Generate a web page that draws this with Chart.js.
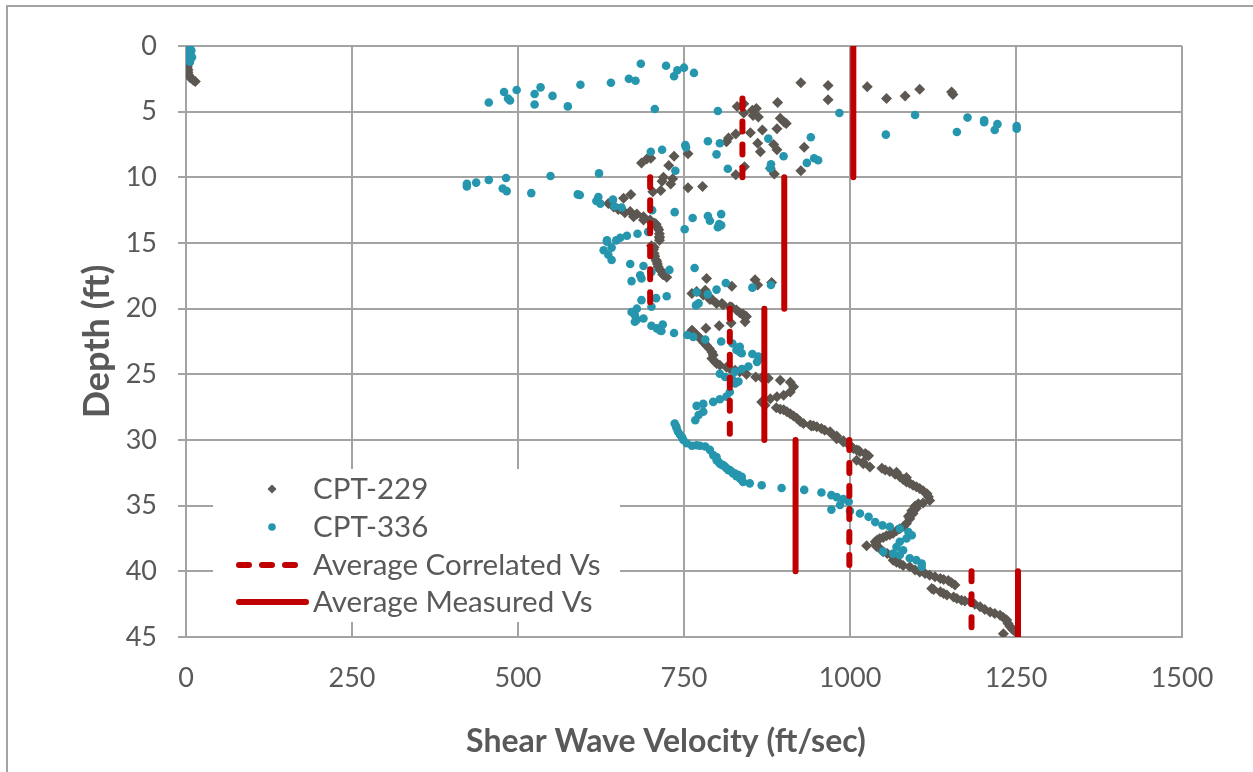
<!DOCTYPE html>
<html>
<head>
<meta charset="utf-8">
<script src="https://cdn.jsdelivr.net/npm/chart.js@4.4.1/dist/chart.umd.min.js"></script>
<style>
  html, body { margin: 0; padding: 0; background: #fff; overflow: hidden; }
  #wrap { position: relative; width: 1253px; height: 772px; }
  #frame { position: absolute; left: 6px; top: 5px; width: 1300px; height: 820px; border: 2px solid #a3a3a3; box-sizing: border-box; }
  canvas { position: absolute; left: 0; top: 0; }
</style>
</head>
<body>
<div id="wrap"><div id="frame"></div><canvas id="c" width="1253" height="772"></canvas></div>
<script>
// [velocity ft/s, depth ft]
const cpt229 = [
  [2,0.2],[3,0.4],[2,0.6],[3,0.8],[2,1.0],[2,1.2],[3,1.4],[2,1.6],[3,1.8],[3,2.0],[4,2.2],[6,2.4],[11,2.6],[14,2.7],
  [926,2.8],[967,3.0],[967,4.1],[1026,3.1],[1055,4.0],[1083,3.8],[1105,3.3],[1153,3.5],[1155,3.7],
  [891,4.3],[830,4.6],[840,4.4],[840,5.1],[853,4.9],[859,4.75],[862,5.4],[854,5.3],[895,5.5],[901,5.8],[904,5.9],
  [890,6.3],[868,6.4],[850,6.6],[828,6.7],[817,7.0],[814,7.3],[861,7.4],[865,8.05],[885,7.5],[890,7.9],[931,7.7],
  [756,8.2],[735,8.4],[700,8.55],[694,8.6],[686,8.9],[727,9.1],[841,9.2],[828,9.8],[880,9.3],[886,9.75],[926,9.5],
  [719,10.0],[717,10.3],[733,10.1],[730,10.5],[756,10.8],[778,10.7],[703,11.1],[715,11.0],[659,11.6],[670,11.3],[636,12.0],
  [644,12.25],[651,12.44],[656,12.45],[661,12.69],[669,12.6],[674,13.0],[679,12.8],[689,13.0],[689,13.25],[699,13.25],
  [699,13.3],[706,13.5],[708,13.58],[710,13.8],[712,14.0],[713,14.3],[713,14.52],[713,14.6],[713,14.8],[701,15.2],
  [705,15.33],[704,15.5],[705,15.79],[706,16.0],[708,16.3],[709,16.4],[710,16.6],[711,16.8],[714,17.06],[715,17.1],
  [718,17.4],[720,17.44],[724,17.6],
  [784,17.7],[822,18.3],[857,17.8],[861,18.2],[882,18.0],
  [762,18.85],[769,18.7],[779,18.95],[782,18.6],[789,19.3],[792,19.29],[799,19.6],[807,19.6],[809,19.7],[819,19.85],
  [822,19.9],[829,20.1],[834,20.31],[839,20.4],[842,20.66],[844,20.6],[842,21.0],[783,21.5],[803,21.3],[821,21.1],
  [762,21.65],[764,21.76],[769,22.0],[773,22.19],[777,22.4],[780,22.6],[784,22.8],[788,23.03],[792,23.3],[794,23.53],
  [792,23.8],[797,24.05],[799,24.17],[804,24.3],[814,24.47],[819,24.55],[827,24.68],[834,24.8],[844,25.0],[858,25.2],
  [867,25.26],[877,25.3],[895,25.45],[910,25.6],[915,25.95],[910,26.35],[900,26.6],[890,26.7],[880,26.85],[867,27.1],
  [872,27.35],[889,27.55],[895,27.65],[900,27.7],[905,27.85],[910,28.0],[915,28.18],[920,28.35],[925,28.6],[930,28.75],
  [940,28.85],[945,28.91],[942,28.94],[950,29.0],[957,29.12],[962,29.25],[970,29.37],[972,29.5],[980,29.7],[980,29.9],
  [990,30.06],[990,30.15],[1000,30.4],[1000,30.46],[1005,30.65],[1010,30.77],[1013,30.8],[1015,30.9],[1023,31.02],
  [1025,31.15],[1028,31.2],[1020,31.7],[1010,31.55],[1020,31.8],[1030,32.05],
  [1048,32.15],[1053,32.29],[1060,32.4],[1068,32.6],[1070,32.45],[1075,32.8],[1080,33.0],[1085,32.85],[1085,33.2],
  [1090,33.3],[1095,33.45],[1100,33.56],[1105,33.7],[1110,33.87],[1116,34.1],[1118,34.33],[1120,34.6],[1110,34.8],
  [1103,34.85],[1098,35.03],[1100,35.2],[1093,35.39],[1095,35.6],[1088,35.8],[1090,36.0],[1085,36.35],[1081,36.56],
  [1075,36.75],[1070,36.91],[1065,37.1],[1060,37.22],[1055,37.3],[1050,37.42],[1045,37.5],[1041,37.62],[1038,37.75],
  [1039,37.93],[1040,38.1],[1045,38.26],[1025,38.05],[1050,38.5],[1056,38.64],[1063,38.8],[1065,39.15],[1070,39.3],
  [1075,39.4],[1080,39.55],[1090,39.65],[1098,39.9],[1105,40.05],[1113,40.16],[1120,40.3],[1128,40.42],[1136,40.55],
  [1141,40.62],[1148,40.7],[1153,40.87],[1158,41.05],
  [1123,41.3],[1126,41.38],[1136,41.55],[1141,41.68],[1146,41.8],[1156,41.95],[1161,42.06],[1168,42.2],[1173,42.25],
  [1181,42.3],[1188,42.5],[1196,42.7],[1203,42.9],[1211,43.1],[1218,43.21],[1226,43.35],[1231,43.51],[1236,43.7],
  [1238,43.97],[1241,44.2],[1245,44.43],[1249,44.6],[1231,44.75]
];

const cpt336 = [
  [3,0.1],[6,0.2],[8,0.35],[5,0.5],[7,0.7],[9,0.85],[4,1.0],[6,1.2],
  [685,1.35],[723,1.5],[740,1.85],[750,1.65],[735,2.3],[765,2.05],[667,2.5],[677,2.65],[640,2.8],[594,2.95],
  [552,3.8],[534,3.15],[525,3.65],[525,4.45],[498,3.35],[479,3.5],[485,4.0],[488,4.15],[456,4.3],[575,4.6],[706,4.8],
  [801,4.95],[984,5.1],[1098,5.25],[1054,6.75],[1161,6.55],[1177,5.45],[1202,5.65],[1202,5.8],[1222,5.95],
  [1218,6.4],[1251,6.1],[1251,6.3],
  [700,8.05],[717,7.9],[752,7.55],[753,7.7],[737,9.5],[786,7.25],[804,7.4],[799,8.25],[877,7.05],[900,8.4],
  [941,6.95],[935,8.9],[946,8.55],[952,8.7],[816,9.35],[881,9.0],[880,9.3],
  [423,10.5],[423,10.7],[437,10.4],[456,10.2],[482,10.05],[477,10.85],[483,11.05],[520,11.2],[549,9.9],[590,11.3],
  [622,9.7],[621,11.5],[618,11.8],[624,12.0],[643,11.7],[645,12.2],[656,12.3],[593,11.35],
  [702,12.5],[736,12.65],[763,13.1],[751,13.95],[696,14.15],[680,14.3],[664,14.45],[654,14.6],[648,14.8],[634,14.8],
  [786,12.95],[789,13.3],[806,12.8],[803,13.55],[801,13.8],[806,13.65],
  [634,14.9],[641,15.35],[629,15.55],[636,15.9],[641,16.3],[669,16.6],[689,16.75],[684,17.45],[686,17.7],[671,17.9],
  [701,17.2],[728,17.05],[766,16.9],
  [813,18.05],[799,18.55],[786,18.9],[769,18.75],[772,19.6],[768,19.75],[853,18.4],[881,18.2],[724,19.05],[708,19.2],
  [701,19.85],[686,19.35],[679,20.0],[671,20.25],[676,20.5],[679,20.85],[689,20.75],[676,21.0],
  [701,21.3],[709,21.5],[716,21.7],[718,21.2],[735,21.85],[714,21.65],[755,22.0],[764,22.15],[782,22.35],[806,22.5],
  [823,22.65],[834,22.9],[829,23.15],[837,23.4],[853,23.45],[862,23.65],[833,23.0],[834,23.3],[865,23.8],[860,24.05],
  [847,24.4],[837,24.6],[827,24.8],
  [804,24.95],[812,25.2],[822,25.3],[827,25.7],[832,25.55],[819,26.35],[814,26.7],[804,26.9],[794,27.1],[779,27.25],
  [769,27.4],[779,27.85],[772,28.1],[767,28.5],
  [736,28.75],[738,28.94],[739,29.1],[741,29.37],[744,29.6],[747,29.8],[749,30.0],[754,30.25],[762,30.44],[769,30.4],
  [774,30.44],[782,30.5],[789,30.75],[794,31.15],[799,31.3],[799,31.53],[802,31.65],[804,31.8],[807,31.9],[809,31.91],
  [812,32.04],[814,32.15],[817,32.3],[819,32.29],[822,32.42],[824,32.55],[827,32.55],[829,32.75],[832,32.67],
  [834,32.9],[837,32.8],[837,33.05],[839,33.2],
  [849,33.3],[867,33.45],[897,33.65],[931,33.8],[957,34.0],[972,34.2],[980,34.35],[990,34.5],[998,34.7],[985,34.95],
  [972,35.3],[1000,35.4],[1015,35.6],[1028,35.85],[1038,36.25],[1049,36.5],[1060,36.6],[1075,36.75],[1088,37.0],
  [1093,37.25],[1085,37.5],[1075,37.75],[1070,38.15],[1080,38.4],[1075,38.75],[1065,38.65],[1050,38.5],[1090,39.0],
  [1100,39.15],[1108,39.4],[1108,39.65]
];

// average Vs per depth interval
const corrVs = [838, 699, 819, 999, 1183];
const corrTop = [4, 10, 20, 30, 40];
const corrBottom = [10, 20, 30, 40, 45];
const measVs = [1005, 901, 871, 918, 1253];
const measTop = [0, 10, 20, 30, 40];
const measBottom = [10, 20, 30, 40, 45];

const xTicks = [0, 250, 500, 750, 1000, 1250, 1500];
const yTicks = [0, 5, 10, 15, 20, 25, 30, 35, 40, 45];

const seriesNames = ['CPT-229', 'CPT-336', 'Average Correlated Vs', 'Average Measured Vs'];
const xTitle = 'Shear Wave Velocity (ft/sec)';
const yTitle = 'Depth (ft)';

const GRAY = '#5c5751';
const TEAL = '#2596ad';
const RED = '#c00000';
const TEXT = '#595959';
const GRID = '#a3a3a3';

function segments(vs, tops, bottoms, dashed) {
  return vs.map((v, i) => ({
    type: 'line',
    label: dashed ? seriesNames[2] : seriesNames[3],
    data: [{x: v, y: tops[i]}, {x: v, y: bottoms[i]}],
    borderColor: RED,
    borderWidth: 6,
    borderDash: dashed ? [10, 13] : [],
    borderCapStyle: 'round',
    pointRadius: 0,
    fill: false,
    order: 0
  }));
}

// legend sits inside the plot, lower left, plus the x axis title
const insideLegend = {
  id: 'insideLegend',
  afterDraw(chart) {
    const ctx = chart.ctx;
    const a = chart.chartArea;
    const left = a.left + 27, top = a.bottom - 168;
    ctx.save();
    ctx.fillStyle = '#fff';
    ctx.fillRect(left, top, 407, 153);
    ctx.textBaseline = 'middle';
    const rows = [top + 20, top + 58, top + 96, top + 133];
    const mx = left + 59, tx = left + 100;
    ctx.fillStyle = GRAY;
    ctx.beginPath();
    ctx.moveTo(mx, rows[0] - 4.5); ctx.lineTo(mx + 4.5, rows[0]); ctx.lineTo(mx, rows[0] + 4.5); ctx.lineTo(mx - 4.5, rows[0]);
    ctx.closePath(); ctx.fill();
    ctx.fillStyle = TEAL;
    ctx.beginPath(); ctx.arc(mx, rows[1], 3.8, 0, Math.PI * 2); ctx.fill();
    ctx.strokeStyle = RED; ctx.lineWidth = 6; ctx.lineCap = 'round';
    ctx.setLineDash([10, 13]);
    ctx.beginPath(); ctx.moveTo(left + 26, rows[2]); ctx.lineTo(left + 87, rows[2]); ctx.stroke();
    ctx.setLineDash([]);
    ctx.beginPath(); ctx.moveTo(left + 26, rows[3]); ctx.lineTo(left + 93, rows[3]); ctx.stroke();
    ctx.fillStyle = TEXT;
    ctx.font = '29.5px Lato';
    seriesNames.forEach((n, i) => ctx.fillText(n, tx, rows[i]));
    ctx.font = 'bold 32px Lato';
    ctx.textAlign = 'center';
    ctx.fillText(xTitle, 666, 742);
    ctx.restore();
  }
};

function draw() {
  Chart.defaults.font.family = 'Lato';
  Chart.defaults.color = TEXT;
  new Chart(document.getElementById('c'), {
    type: 'scatter',
    data: {
      datasets: [
        ...segments(corrVs, corrTop, corrBottom, true),
        ...segments(measVs, measTop, measBottom, false),
        {
          label: seriesNames[1],
          data: cpt336.map(p => ({x: p[0], y: p[1]})),
          pointStyle: 'circle',
          pointRadius: 4.3,
          backgroundColor: TEAL,
          borderWidth: 0,
          order: 1
        },
        {
          label: seriesNames[0],
          data: cpt229.map(p => ({x: p[0], y: p[1]})),
          pointStyle: 'rectRot',
          pointRadius: 5.5,
          backgroundColor: GRAY,
          borderWidth: 0,
          order: 2
        }
      ]
    },
    options: {
      responsive: false,
      animation: false,
      layout: { padding: { left: 0, top: 46, right: 71, bottom: 0 } },
      plugins: { legend: { display: false }, tooltip: { enabled: false } },
      scales: {
        x: {
          type: 'linear',
          min: 0, max: 1500,
          afterBuildTicks: s => { s.ticks = xTicks.map(v => ({value: v})); },
          afterFit: s => { s.height = 772 - 637; },
          grid: { color: GRID, lineWidth: 2, drawTicks: false },
          border: { color: GRID, width: 2 },
          ticks: { font: { size: 27 }, color: TEXT, padding: 25, maxRotation: 0, callback: v => String(v) }
        },
        y: {
          type: 'linear',
          reverse: true,
          min: 0, max: 45,
          afterBuildTicks: s => { s.ticks = yTicks.map(v => ({value: v})); },
          afterFit: s => { s.width = 186; },
          grid: { color: GRID, lineWidth: 2, tickLength: 8 },
          border: { color: GRID, width: 2 },
          ticks: { font: { size: 27 }, color: TEXT, padding: 21, callback: v => String(v) },
          title: {
            display: true, text: yTitle, color: TEXT,
            font: { size: 36, weight: 'bold', lineHeight: 1.2 }, padding: { top: 76, bottom: 0 }
          }
        }
      }
    },
    plugins: [insideLegend]
  });
}

if (document.fonts && document.fonts.load) {
  Promise.all([document.fonts.load('27px Lato'), document.fonts.load('bold 32px Lato')]).then(draw, draw);
} else {
  draw();
}
</script>
</body>
</html>
